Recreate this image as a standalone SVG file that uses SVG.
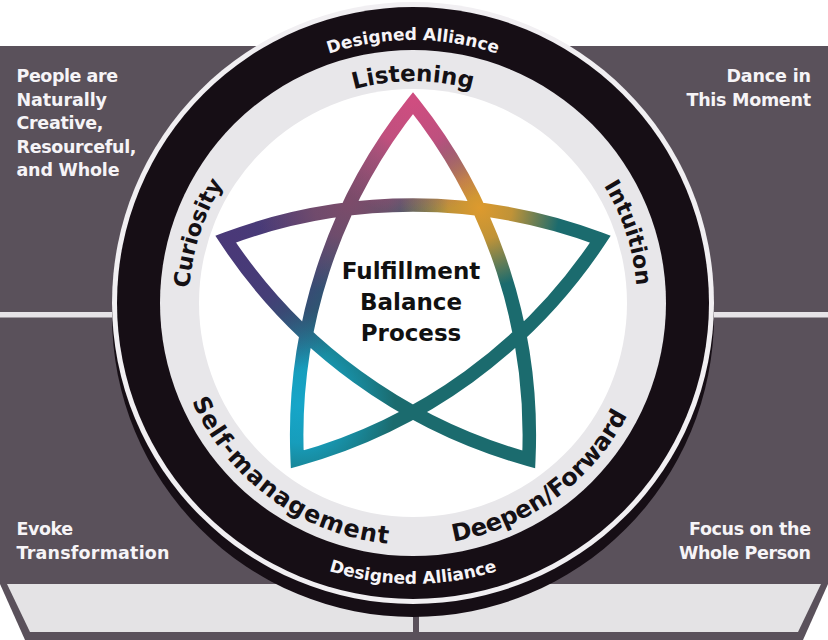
<svg xmlns="http://www.w3.org/2000/svg" width="828" height="640" viewBox="0 0 828 640">
<style>
  .pt { font-family: "DejaVu Sans", "Liberation Sans", sans-serif; font-weight: bold; font-size: 17.5px; fill: #f6f4f7; }
  .rl { font-family: "DejaVu Sans", "Liberation Sans", sans-serif; font-weight: bold; fill: #141014; }
  .da { font-family: "DejaVu Sans", "Liberation Sans", sans-serif; font-weight: bold; font-size: 17px; fill: #f6f4f7; }
  .ct { font-family: "DejaVu Sans", "Liberation Sans", sans-serif; font-weight: bold; font-size: 23px; fill: #111111; text-anchor: middle; }
  .panel { fill: #5a515b; }
  .sep { fill: #e6e3e7; }
  .strip { fill: #e4e3e5; }
  .blk { fill: #160e15; }
</style>
<defs>
  <path id="p-listen" d="M194.4,264.5 A222,222 0 0 1 631.6,264.5"/>
  <path id="p-curio" d="M307.8,500.8 A224,224 0 0 1 444.2,81.2"/>
  <path id="p-intu" d="M381.8,81.2 A224,224 0 0 1 518.2,500.8"/>
  <path id="p-datop" d="M154.0,257.3 A263,263 0 0 1 672.0,257.3"/>
  <path id="p-self" d="M195.5,196.9 A242,242 0 0 0 581.1,477.1"/>
  <path id="p-deep" d="M244.9,477.1 A242,242 0 0 0 630.5,196.9"/>
  <path id="p-dabot" d="M136.3,351.8 A281,281 0 0 0 689.7,351.8"/>
  <path id="star-path" d="M413,103 A533,533 0 0 0 297.21,459.38 A533,533 0 0 0 600.36,239.12 A533,533 0 0 0 225.64,239.12 A533,533 0 0 0 528.79,459.38 A533,533 0 0 0 413,103 Z"/>
  <mask id="star-mask" maskUnits="userSpaceOnUse" x="0" y="0" width="828" height="640">
    <use href="#star-path" fill="none" stroke="#ffffff" stroke-width="13.5" stroke-linejoin="miter" stroke-miterlimit="10"/>
  </mask>
  <radialGradient id="g-cyan"><stop offset="0" stop-color="#16a6c9"/><stop offset="0.4" stop-color="#16a6c9" stop-opacity="0.85"/><stop offset="1" stop-color="#16a6c9" stop-opacity="0"/></radialGradient>
  <radialGradient id="g-purple"><stop offset="0" stop-color="#4a3878"/><stop offset="0.45" stop-color="#4a3878" stop-opacity="0.9"/><stop offset="1" stop-color="#4a3878" stop-opacity="0"/></radialGradient>
  <radialGradient id="g-mauve"><stop offset="0" stop-color="#7d4b6a"/><stop offset="0.4" stop-color="#7d4b6a" stop-opacity="0.8"/><stop offset="1" stop-color="#7d4b6a" stop-opacity="0"/></radialGradient>
  <radialGradient id="g-orange"><stop offset="0" stop-color="#dd9a2e"/><stop offset="0.4" stop-color="#dd9a2e" stop-opacity="0.85"/><stop offset="1" stop-color="#dd9a2e" stop-opacity="0"/></radialGradient>
  <radialGradient id="g-pink"><stop offset="0" stop-color="#d04d80"/><stop offset="0.4" stop-color="#d04d80" stop-opacity="0.9"/><stop offset="1" stop-color="#d04d80" stop-opacity="0"/></radialGradient>
</defs>

<g id="panels">
  <polygon class="panel" points="0,46 828,46 828,584 803,640 25,640 0,584"/>
  <rect class="sep" x="0" y="312" width="300" height="5.5"/>
  <rect class="sep" x="528" y="312" width="300" height="5.5"/>
  <polygon class="strip" points="7,584 413,584 413,632 30,632"/>
  <polygon class="strip" points="419,584 821,584 798,632 419,632"/>
</g>

<g id="panel-labels">
  <text class="pt" x="16.5" y="82" textLength="101.5">People are</text>
  <text class="pt" x="16.5" y="105.5" textLength="90.5">Naturally</text>
  <text class="pt" x="16.5" y="129" textLength="87">Creative,</text>
  <text class="pt" x="16.5" y="152.5" textLength="120">Resourceful,</text>
  <text class="pt" x="16.5" y="175.5" textLength="103">and Whole</text>
  <text class="pt" x="811" y="82" text-anchor="end" textLength="84.5">Dance in</text>
  <text class="pt" x="811" y="105.5" text-anchor="end" textLength="124.5">This Moment</text>
  <text class="pt" x="16.5" y="535" textLength="56.5">Evoke</text>
  <text class="pt" x="16.5" y="558.5" textLength="153">Transformation</text>
  <text class="pt" x="811" y="535" text-anchor="end" textLength="122">Focus on the</text>
  <text class="pt" x="811" y="558.5" text-anchor="end" textLength="132">Whole Person</text>
</g>

<g id="disc">
  <circle class="blk" cx="413" cy="316" r="301"/>
  <circle cx="413" cy="303" r="301" fill="#f1eff2"/>
  <circle class="blk" cx="413" cy="303" r="296"/>
  <circle cx="413" cy="303" r="253" fill="#e8e7ea"/>
  <circle cx="413" cy="303" r="214" fill="#ffffff"/>
</g>

<g id="ring-labels">
  <text class="da"><textPath href="#p-datop" startOffset="50%" text-anchor="middle">Designed Alliance</textPath></text>
  <text class="da"><textPath href="#p-dabot" startOffset="50%" text-anchor="middle">Designed Alliance</textPath></text>
  <text class="rl" font-size="23"><textPath href="#p-listen" startOffset="50%" text-anchor="middle">Listening</textPath></text>
  <text class="rl" font-size="22"><textPath href="#p-curio" startOffset="50%" text-anchor="middle">Curiosity</textPath></text>
  <text class="rl" font-size="22"><textPath href="#p-intu" startOffset="50%" text-anchor="middle">Intuition</textPath></text>
  <text class="rl" font-size="24"><textPath href="#p-self" startOffset="50%" text-anchor="middle" textLength="254" lengthAdjust="spacing">Self-management</textPath></text>
  <text class="rl" font-size="24"><textPath href="#p-deep" startOffset="50%" text-anchor="middle">Deepen/Forward</textPath></text>
</g>

<g id="star">
  <g mask="url(#star-mask)">
    <rect x="180" y="70" width="470" height="420" fill="#1b6b6e"/>
    <circle cx="300" cy="405" r="95" fill="url(#g-cyan)"/>
    <circle cx="232" cy="238" r="150" fill="url(#g-purple)"/>
    <circle cx="350" cy="200" r="95" fill="url(#g-mauve)"/>
    <circle cx="480" cy="208" r="80" fill="url(#g-orange)"/>
    <circle cx="413" cy="100" r="115" fill="url(#g-pink)"/>
  </g>
</g>

<g id="center-label">
  <text class="ct" x="411" y="279">Fulfillment</text>
  <text class="ct" x="411" y="310">Balance</text>
  <text class="ct" x="411" y="341">Process</text>
</g>
</svg>
